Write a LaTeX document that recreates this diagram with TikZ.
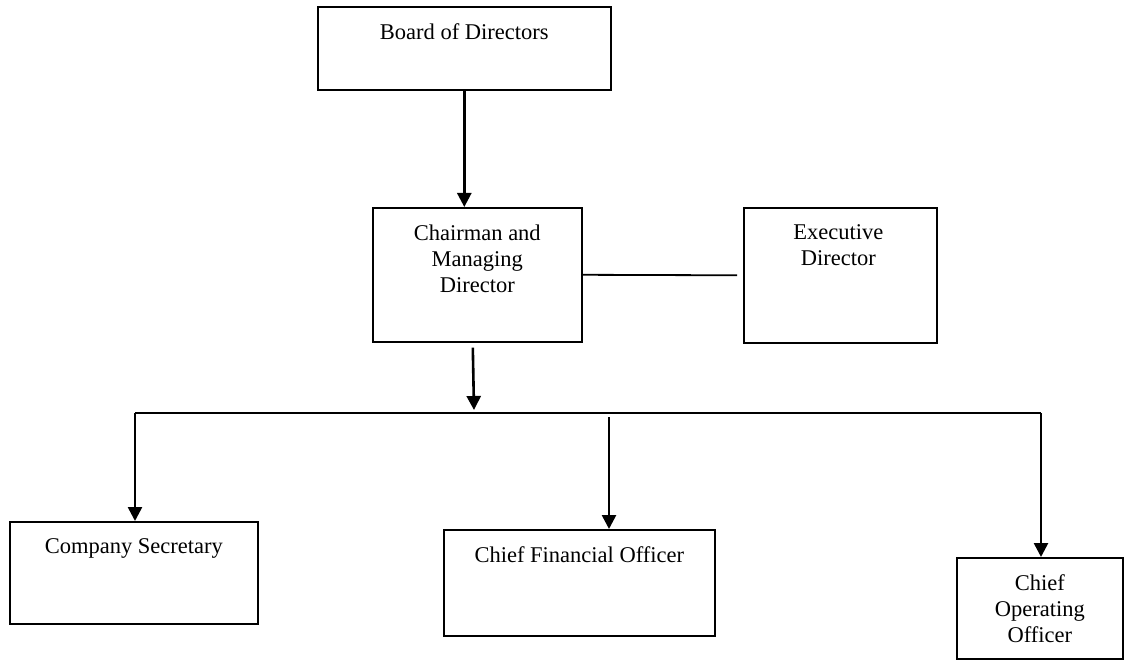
\documentclass[tikz,border=0pt]{standalone}
\usepackage{fontspec}
\setmainfont{Liberation Serif}
\usetikzlibrary{arrows.meta}
\begin{document}
\begin{tikzpicture}[x=1pt,y=-1pt,
  box/.style 2 args={draw, line width=1.6pt, minimum width=#1, minimum height=#2, anchor=north west, inner sep=0pt},
  lbl/.style={anchor=north, inner sep=0pt, align=center, font=\fontsize{22.5}{26}\selectfont},
  arr/.style={line width=2.6pt, -{Triangle[length=14pt,width=14pt]}},
  conn/.style={line width=1.8pt}]
\useasboundingbox[fill=white] (0,0) rectangle (1124,660);
% boxes
\node[box={293pt}{83pt}] (board) at (317,6) {};
\node[box={209pt}{134pt}] (chair) at (372,207) {};
\node[box={193pt}{135pt}] (exec) at (743,207) {};
\node[box={248pt}{102pt}] (cs) at (9,521) {};
\node[box={271pt}{106pt}] (cfo) at (443,529) {};
\node[box={166pt}{101pt}] (coo) at (956,557) {};
% texts
\node[lbl] (boardT) at ([yshift=-17.5pt]board.north) {Board of Directors};
\node[lbl] (chairT) at ([yshift=-17.5pt]chair.north) {Chairman and\\Managing\\Director};
\node[lbl] (execT) at ([xshift=-2pt,yshift=-17.5pt]exec.north) {Executive\\Director};
\node[lbl] (csT) at ([yshift=-17.5pt]cs.north) {Company Secretary};
\node[lbl] (cfoT) at ([yshift=-17.5pt]cfo.north) {Chief Financial Officer};
\node[lbl] (cooT) at ([yshift=-17.5pt]coo.north) {Chief\\Operating\\Officer};
% coordinates
\coordinate (busL) at (135,413);
\coordinate (busR) at (1041,413);
\coordinate (busM) at (474,410);
\coordinate (cfoTop) at (609,417);
% connectors
\draw[arr] (board.south) -- (board.south |- chair.north);
\draw[conn] (chair.east) -- ([xshift=-6pt]exec.west);
\draw[arr] ([shift={(-4.5,5)}]chair.south) -- (busM);
\draw[conn] (busL) -- (busR);
\draw[arr] (busL) -- (busL |- cs.north);
\draw[arr] (cfoTop) -- (cfoTop |- cfo.north);
\draw[arr] (busR) -- (busR |- coo.north);
\end{tikzpicture}
\end{document}
